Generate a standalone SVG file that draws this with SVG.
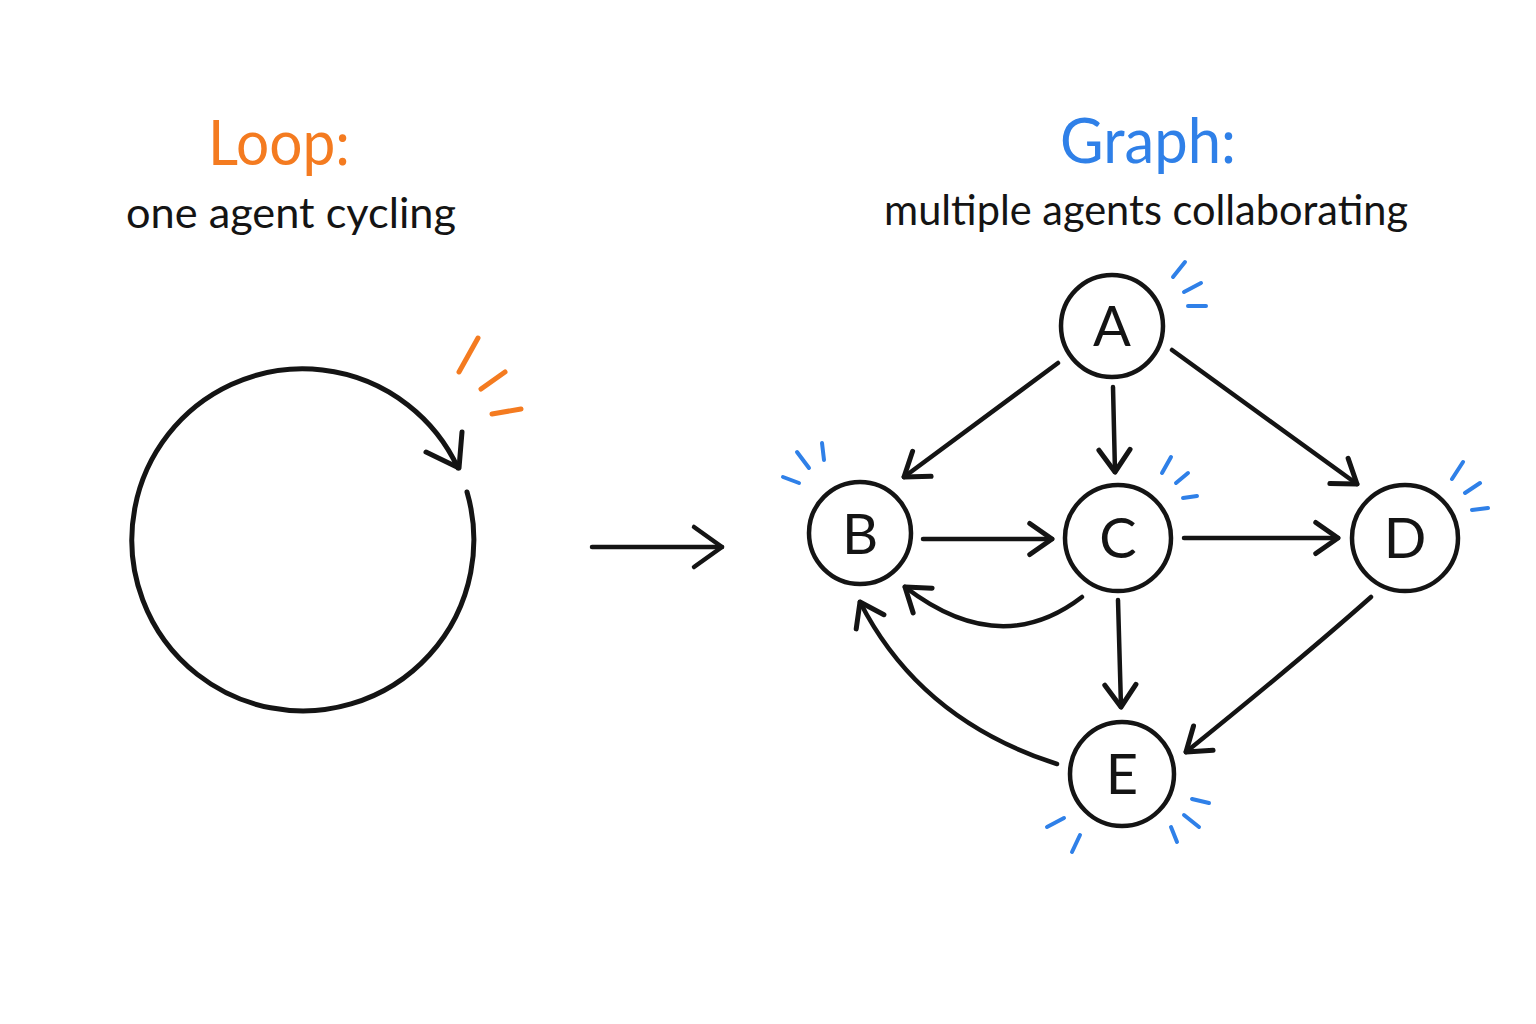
<svg xmlns="http://www.w3.org/2000/svg" width="1536" height="1024" viewBox="0 0 1536 1024">
<style>
.ln{fill:none;stroke:#141414;stroke-width:4.5;stroke-linecap:round;stroke-linejoin:round}
.nd{fill:#fff;stroke:#141414;stroke-width:4.5}
.lb{font-family:Lato,"Open Sans",sans-serif;font-size:56px;fill:#141414;text-anchor:middle}
.tk-o{stroke:#F47B20;stroke-width:5;stroke-linecap:round;fill:none}
.tk-b{stroke:#2F80E8;stroke-width:4;stroke-linecap:round;fill:none}
.t1{font-family:Lato,"Open Sans",sans-serif;font-size:62px}
.t2{font-family:Lato,"Open Sans",sans-serif;font-size:42px;fill:#141414}
</style>
<defs>
<marker id="ah" markerUnits="userSpaceOnUse" markerWidth="40" markerHeight="40" viewBox="-24 -18 28 36" refX="0" refY="0" orient="auto">
<path d="M-20,-14 L0,0 L-20,14" fill="none" stroke="#141414" stroke-width="4.5" stroke-linecap="round" stroke-linejoin="round"/>
</marker>
</defs>
<rect width="1536" height="1024" fill="#fff"/>

<g id="titles">
<text class="t1" x="208" y="165" fill="#F47B20" textLength="142" lengthAdjust="spacingAndGlyphs">Loop:</text>
<text class="t2" x="126" y="228" textLength="330" lengthAdjust="spacingAndGlyphs">one agent cycling</text>
<text class="t1" x="1060" y="163" fill="#2F80E8" textLength="176" lengthAdjust="spacingAndGlyphs">Graph:</text>
<text class="t2" x="884" y="225" textLength="524" lengthAdjust="spacingAndGlyphs">multiple agents collaborating</text>
</g>

<g id="loop">
<path class="ln" style="stroke-width:5" d="M467,492 A171,171 0 1 1 458,468"/>
<path class="ln" style="stroke-width:5" d="M426,452 L459,468 L462,432"/>
<path class="tk-o" d="M459,372 L478,338 M481,389 L505,372 M492,414 L521,409"/>
</g>

<g id="connectors">
<path class="ln" d="M592,547 L722,547"/>
<path class="ln" d="M694,527 L722,547 L694,567"/>
<path class="ln" marker-end="url(#ah)" d="M1058,363 L904,477"/>
<path class="ln" marker-end="url(#ah)" d="M1113,387 L1115,472"/>
<path class="ln" marker-end="url(#ah)" d="M1172,350 L1357,484"/>
<path class="ln" marker-end="url(#ah)" d="M923,539 L1052,539"/>
<path class="ln" marker-end="url(#ah)" d="M1184,538 L1338,538"/>
<path class="ln" marker-end="url(#ah)" d="M1082,597 Q1000,660 905,587"/>
<path class="ln" marker-end="url(#ah)" d="M1118,600 L1121,707"/>
<path class="ln" marker-end="url(#ah)" d="M1371,597 Q1300,660 1186,752"/>
<path class="ln" marker-end="url(#ah)" d="M1057,764 Q920,720 860,602"/>
</g>

<g id="node-A">
<circle class="nd" cx="1112" cy="326" r="51"/>
<text class="lb" x="1112" y="346">A</text>
<path class="tk-b" d="M1173,277 L1185,262 M1184,292 L1201,283 M1188,306 L1206,306"/>
</g>
<g id="node-B">
<circle class="nd" cx="860" cy="533" r="51"/>
<text class="lb" x="860" y="554">B</text>
<path class="tk-b" d="M783,477 L799,483 M797,452 L809,468 M822,443 L824,460"/>
</g>
<g id="node-C">
<circle class="nd" cx="1118" cy="538" r="53"/>
<text class="lb" x="1118" y="558">C</text>
<path class="tk-b" d="M1162,473 L1171,457 M1176,483 L1188,473 M1183,498 L1197,496"/>
</g>
<g id="node-D">
<circle class="nd" cx="1405" cy="538" r="53"/>
<text class="lb" x="1405" y="558">D</text>
<path class="tk-b" d="M1452,479 L1463,462 M1465,493 L1480,483 M1472,510 L1488,508"/>
</g>
<g id="node-E">
<circle class="nd" cx="1122" cy="774" r="52"/>
<text class="lb" x="1122" y="794">E</text>
<path class="tk-b" d="M1047,827 L1064,818 M1072,852 L1080,835 M1192,799 L1209,803 M1184,815 L1199,827 M1171,827 L1177,842"/>
</g>
</svg>
